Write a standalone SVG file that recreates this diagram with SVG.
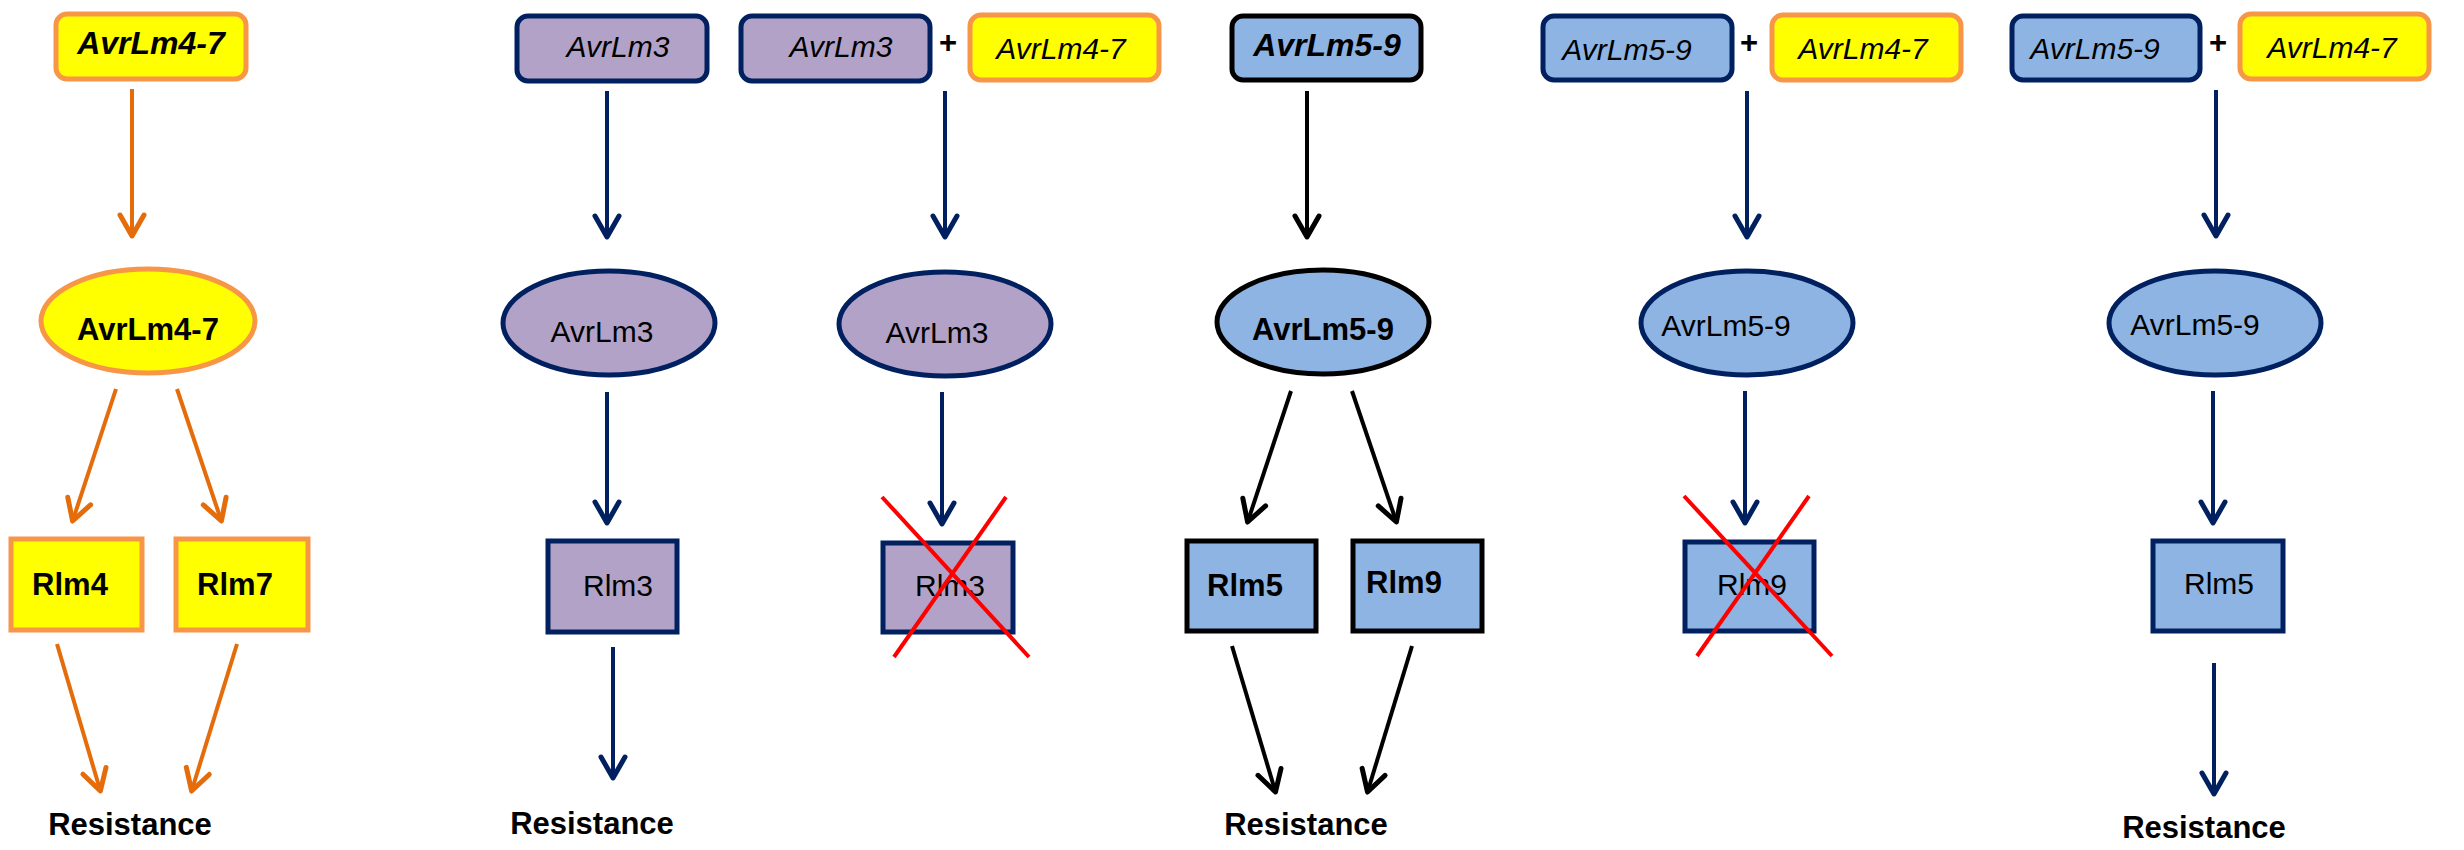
<svg xmlns="http://www.w3.org/2000/svg" width="2464" height="850" viewBox="0 0 2464 850">
<style>
text{font-family:"Liberation Sans",Arial,sans-serif;text-anchor:middle;fill:#000}
.b{font-weight:bold;font-size:31px}
.bi{font-weight:bold;font-style:italic;font-size:32px}
.i{font-style:italic;font-size:30px}
.r{font-size:30px}
.y{fill:#FFFF00;stroke:#F79646;stroke-width:5}
.p{fill:#B3A2C7;stroke:#002060;stroke-width:5}
.bl{fill:#8EB4E3;stroke:#002060;stroke-width:5}
.bk{fill:#8EB4E3;stroke:#000;stroke-width:5}
.ao{stroke:#E46C0A;stroke-width:4;fill:none;marker-end:url(#mo)}
.an{stroke:#002060;stroke-width:4;fill:none;marker-end:url(#mn)}
.ak{stroke:#000;stroke-width:4;fill:none;marker-end:url(#mk)}
.x{stroke:#FF0000;stroke-width:4}
</style>
<defs>
<marker id="mo" markerUnits="userSpaceOnUse" viewBox="-26 -16 30 32" refX="0" refY="0" markerWidth="30" markerHeight="32" orient="auto"><path d="M-21,-12 L0,0 L-21,12" fill="none" stroke="#E46C0A" stroke-width="5" stroke-linecap="round" stroke-linejoin="round"/></marker>
<marker id="mn" markerUnits="userSpaceOnUse" viewBox="-26 -16 30 32" refX="0" refY="0" markerWidth="30" markerHeight="32" orient="auto"><path d="M-21,-12 L0,0 L-21,12" fill="none" stroke="#002060" stroke-width="5" stroke-linecap="round" stroke-linejoin="round"/></marker>
<marker id="mk" markerUnits="userSpaceOnUse" viewBox="-26 -16 30 32" refX="0" refY="0" markerWidth="30" markerHeight="32" orient="auto"><path d="M-21,-12 L0,0 L-21,12" fill="none" stroke="#000" stroke-width="5" stroke-linecap="round" stroke-linejoin="round"/></marker>
</defs>
<rect width="2464" height="850" fill="#fff"/>

<g id="connectors">
<path class="ao" d="M132,89 L132,236"/>
<path class="ao" d="M116,389 L72.6,521"/>
<path class="ao" d="M177,389 L221.4,521"/>
<path class="ao" d="M57,644 L100.4,791"/>
<path class="ao" d="M237,644 L191.6,791"/>

<path class="an" d="M607,91 L607,237"/>
<path class="an" d="M607,392 L607,523"/>
<path class="an" d="M613,647 L613,778"/>
<path class="an" d="M945,91 L945,237"/>
<path class="an" d="M942,392 L942,524"/>

<path class="ak" d="M1307,91 L1307,237"/>
<path class="ak" d="M1291,391 L1247.6,522"/>
<path class="ak" d="M1352,391 L1396.4,522"/>
<path class="ak" d="M1232,646 L1275.5,792"/>
<path class="ak" d="M1412,646 L1367.5,792"/>

<path class="an" d="M1747,91 L1747,237"/>
<path class="an" d="M1745,391 L1745,523"/>
<path class="an" d="M2216,90 L2216,236"/>
<path class="an" d="M2213,391 L2213,523"/>
<path class="an" d="M2214,663 L2214,794"/>
</g>

<g id="col1-avrlm47-gene"><rect class="y" x="56" y="14" width="190" height="65" rx="11"/><text class="bi" x="151" y="54">AvrLm4-7</text></g>
<g id="col1-avrlm47-protein"><ellipse class="y" cx="148" cy="321" rx="107" ry="52"/><text class="b" x="148" y="340">AvrLm4-7</text></g>
<g id="col1-rlm4"><rect class="y" x="11" y="539" width="131" height="91"/><text class="b" x="70" y="595">Rlm4</text></g>
<g id="col1-rlm7"><rect class="y" x="176" y="539" width="132" height="91"/><text class="b" x="235" y="595">Rlm7</text></g>
<g id="col1-resistance"><text class="b" x="130" y="835">Resistance</text></g>

<g id="col2-avrlm3-gene"><rect class="p" x="517" y="16" width="190" height="65" rx="11"/><text class="i" x="618" y="57">AvrLm3</text></g>
<g id="col2-avrlm3-protein"><ellipse class="p" cx="609" cy="323" rx="106" ry="52"/><text class="r" x="602" y="342">AvrLm3</text></g>
<g id="col2-rlm3"><rect class="p" x="548" y="541" width="129" height="91"/><text class="r" x="618" y="596">Rlm3</text></g>
<g id="col2-resistance"><text class="b" x="592" y="834">Resistance</text></g>

<g id="col3-avrlm3-gene"><rect class="p" x="741" y="16" width="189" height="65" rx="11"/><text class="i" x="841" y="57">AvrLm3</text></g>
<g id="col3-plus"><text class="b" x="948" y="53">+</text></g>
<g id="col3-avrlm47-gene"><rect class="y" x="970" y="15" width="189" height="65" rx="11"/><text class="i" x="1061" y="59">AvrLm4-7</text></g>
<g id="col3-avrlm3-protein"><ellipse class="p" cx="945" cy="324" rx="106" ry="52"/><text class="r" x="937" y="343">AvrLm3</text></g>
<g id="col3-rlm3"><rect class="p" x="883" y="543" width="130" height="89"/><text class="r" x="950" y="596">Rlm3</text>
<line class="x" x1="882" y1="497" x2="1029" y2="657"/><line class="x" x1="1006" y1="497" x2="894" y2="657"/></g>

<g id="col4-avrlm59-gene"><rect class="bk" x="1232" y="16" width="189" height="64" rx="11"/><text class="bi" x="1327" y="56">AvrLm5-9</text></g>
<g id="col4-avrlm59-protein"><ellipse class="bk" cx="1323" cy="322" rx="106" ry="52"/><text class="b" x="1323" y="340">AvrLm5-9</text></g>
<g id="col4-rlm5"><rect class="bk" x="1187" y="541" width="129" height="90"/><text class="b" x="1245" y="596">Rlm5</text></g>
<g id="col4-rlm9"><rect class="bk" x="1353" y="541" width="129" height="90"/><text class="b" x="1404" y="593">Rlm9</text></g>
<g id="col4-resistance"><text class="b" x="1306" y="835">Resistance</text></g>

<g id="col5-avrlm59-gene"><rect class="bl" x="1543" y="16" width="189" height="64" rx="11"/><text class="i" x="1627" y="60">AvrLm5-9</text></g>
<g id="col5-plus"><text class="b" x="1749" y="53">+</text></g>
<g id="col5-avrlm47-gene"><rect class="y" x="1772" y="15" width="189" height="65" rx="11"/><text class="i" x="1863" y="59">AvrLm4-7</text></g>
<g id="col5-avrlm59-protein"><ellipse class="bl" cx="1747" cy="323" rx="106" ry="52"/><text class="r" x="1726" y="336">AvrLm5-9</text></g>
<g id="col5-rlm9"><rect class="bl" x="1685" y="542" width="129" height="89"/><text class="r" x="1752" y="595">Rlm9</text>
<line class="x" x1="1684" y1="496" x2="1832" y2="656"/><line class="x" x1="1809" y1="496" x2="1697" y2="656"/></g>

<g id="col6-avrlm59-gene"><rect class="bl" x="2012" y="16" width="188" height="64" rx="11"/><text class="i" x="2095" y="59">AvrLm5-9</text></g>
<g id="col6-plus"><text class="b" x="2218" y="53">+</text></g>
<g id="col6-avrlm47-gene"><rect class="y" x="2240" y="14" width="189" height="65" rx="11"/><text class="i" x="2332" y="58">AvrLm4-7</text></g>
<g id="col6-avrlm59-protein"><ellipse class="bl" cx="2215" cy="323" rx="106" ry="52"/><text class="r" x="2195" y="335">AvrLm5-9</text></g>
<g id="col6-rlm5"><rect class="bl" x="2153" y="541" width="130" height="90"/><text class="r" x="2219" y="594">Rlm5</text></g>
<g id="col6-resistance"><text class="b" x="2204" y="838">Resistance</text></g>
</svg>
